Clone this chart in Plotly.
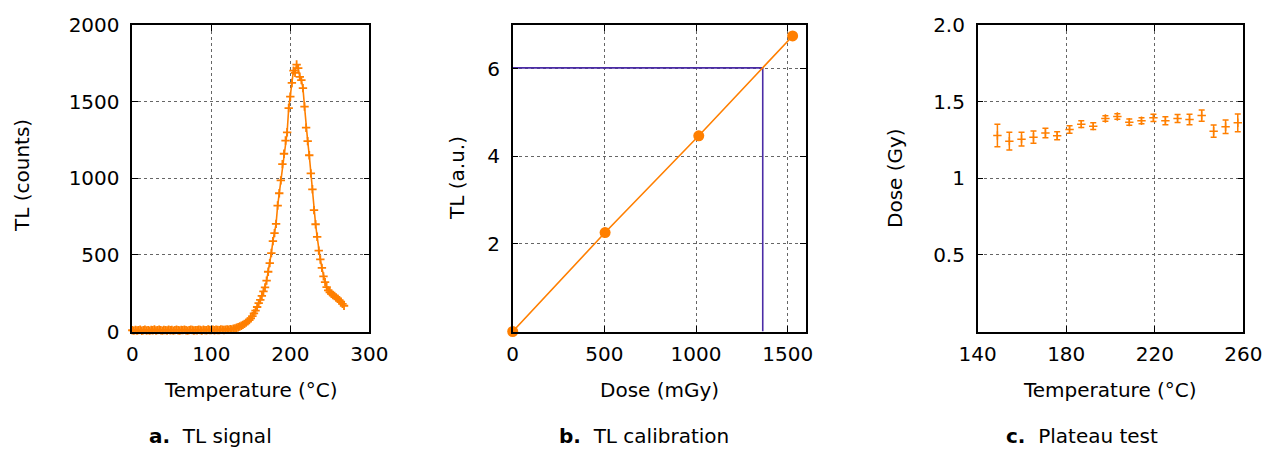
import plotly.graph_objects as go

ORANGE = "#ff7f00"
BLUE = "#4b2ca6"
FONT = "DejaVu Sans"

# ---------------- data ----------------
# a. TL signal (counts vs temperature, every 2 degC from 0 to 268)
signal_temp = list(range(0, 270, 2))
signal_counts = [
    8, 6, 10, 7, 9, 12, 5, 8, 11, 7, 9, 6, 10, 8, 13, 7, 9, 11, 8, 6,
    10, 9, 7, 12, 8, 10, 6, 9, 11, 8, 7, 10, 9, 12, 8, 6, 9, 11, 10, 7,
    9, 8, 12, 10, 7, 11, 9, 8, 13, 10, 9, 12, 8, 11, 10, 9, 13, 11, 10, 12,
    14,
    12, 15, 14, 18, 20, 24, 28, 33, 38, 43, 50, 58, 66, 74, 86, 100, 118, 136,
    160, 185, 206, 232, 262, 288, 332, 390, 446, 512, 590, 642, 702, 822, 902,
    986, 1092, 1160, 1246, 1300, 1458, 1532, 1622, 1702, 1688, 1742, 1718, 1662,
    1640, 1588, 1468, 1330, 1242, 1150, 1032, 928, 792, 700, 618, 528, 470, 415,
    360, 322, 290, 268, 256, 246, 238, 232, 222, 214, 204, 194, 180, 168,
]

# b. TL calibration
calib_dose = [0, 504, 1015, 1527]
calib_tl = [0, 2.26, 4.47, 6.75]
measured_tl = 6.02
measured_dose = 1364

# c. Plateau test
plateau_temp = [148.9, 154.3, 159.8, 165.2, 170.6, 175.9, 181.5, 186.8, 192.2, 197.7,
                203.1, 208.5, 214.0, 219.4, 224.8, 230.3, 235.7, 241.2, 246.6, 252.0, 257.5]
plateau_dose = [1.279, 1.242, 1.255, 1.268, 1.296, 1.277, 1.318, 1.353, 1.340, 1.390,
                1.403, 1.366, 1.375, 1.394, 1.375, 1.390, 1.383, 1.409, 1.307, 1.336, 1.362]
plateau_err = [0.073, 0.058, 0.045, 0.040, 0.031, 0.026, 0.024, 0.022, 0.022, 0.018,
               0.018, 0.020, 0.020, 0.023, 0.026, 0.026, 0.034, 0.037, 0.040, 0.044, 0.058]

# ---------------- figure ----------------
W, H = 1274, 450
def px(x):
    return x / W
def py(y):
    return 1 - y / H

fig = go.Figure()

fig.add_trace(go.Scatter(
    x=signal_temp[:len(signal_counts)], y=signal_counts, mode="lines+markers",
    line=dict(color=ORANGE, width=1.6),
    marker=dict(symbol="cross-thin", size=6, line=dict(color=ORANGE, width=1.8)),
    xaxis="x", yaxis="y", cliponaxis=False, showlegend=False))

fig.add_trace(go.Scatter(
    x=[0, measured_dose, measured_dose], y=[measured_tl, measured_tl, 0], mode="lines",
    line=dict(color=BLUE, width=1.6), xaxis="x2", yaxis="y2", showlegend=False))
fig.add_trace(go.Scatter(
    x=calib_dose, y=calib_tl, mode="lines+markers",
    line=dict(color=ORANGE, width=1.6),
    marker=dict(symbol="circle", size=11, color=ORANGE),
    xaxis="x2", yaxis="y2", cliponaxis=False, showlegend=False))

fig.add_trace(go.Scatter(
    x=plateau_temp, y=plateau_dose, mode="markers",
    marker=dict(symbol="cross-thin", size=6, line=dict(color=ORANGE, width=1.5)),
    error_y=dict(type="data", array=plateau_err, color=ORANGE, thickness=1.5, width=3),
    xaxis="x3", yaxis="y3", showlegend=False))

axis_common = dict(
    showline=True, linecolor="black", linewidth=1.5, mirror="ticks",
    ticks="inside", ticklen=6, tickwidth=1.2, tickcolor="black",
    showgrid=True, gridcolor="#666666", griddash="dot", gridwidth=1,
    zeroline=False, tickfont=dict(family=FONT, size=20, color="black"),
)
xax = dict(axis_common, ticklabelstandoff=4)
yax = dict(axis_common, ticklabelstandoff=7)

ydom = [py(331.5), py(25)]
fig.update_layout(
    width=W, height=H, margin=dict(l=0, r=0, t=0, b=0, autoexpand=False),
    plot_bgcolor="white", paper_bgcolor="white",
    xaxis=dict(domain=[px(132.3), px(369.3)], range=[0, 300], tickvals=[0, 100, 200, 300],
               anchor="y", **xax),
    yaxis=dict(domain=ydom, range=[0, 2000], tickvals=[0, 500, 1000, 1500, 2000],
               anchor="x", **yax),
    xaxis2=dict(domain=[px(512.7), px(806)], range=[0, 1600], tickvals=[0, 500, 1000, 1500],
                anchor="y2", **xax),
    yaxis2=dict(domain=ydom, range=[0, 7], tickvals=[2, 4, 6], anchor="x2", **yax),
    xaxis3=dict(domain=[px(977.7), px(1243.3)], range=[140, 260], tickvals=[140, 180, 220, 260],
                anchor="y3", **xax),
    yaxis3=dict(domain=ydom, range=[0, 2.0], tickvals=[0.5, 1, 1.5, 2.0],
                ticktext=["0.5", "1", "1.5", "2.0"], anchor="x3", **yax),
)

title_font = dict(family=FONT, size=20, color="black")
annotations = [
    (251, 390, "Temperature (°C)", 0),
    (659, 390, "Dose (mGy)", 0),
    (1110, 390, "Temperature (°C)", 0),
    (22, 176, "TL (counts)", -90),
    (457, 178, "TL (a.u.)", -90),
    (895, 178, "Dose (Gy)", -90),
]
for x, y, t, ang in annotations:
    fig.add_annotation(x=px(x), y=py(y), xref="paper", yref="paper", text=t,
                       showarrow=False, textangle=ang, font=title_font,
                       xanchor="center", yanchor="middle")

cap_font = dict(family=FONT, size=20, color="black")
for x, t in [(210, "<b>a.</b>  TL signal"), (644, "<b>b.</b>  TL calibration"),
             (1082, "<b>c.</b>  Plateau test")]:
    fig.add_annotation(x=px(x), y=py(436), xref="paper", yref="paper", text=t,
                       showarrow=False, font=cap_font, xanchor="center", yanchor="middle")

fig.write_html("out.html")
